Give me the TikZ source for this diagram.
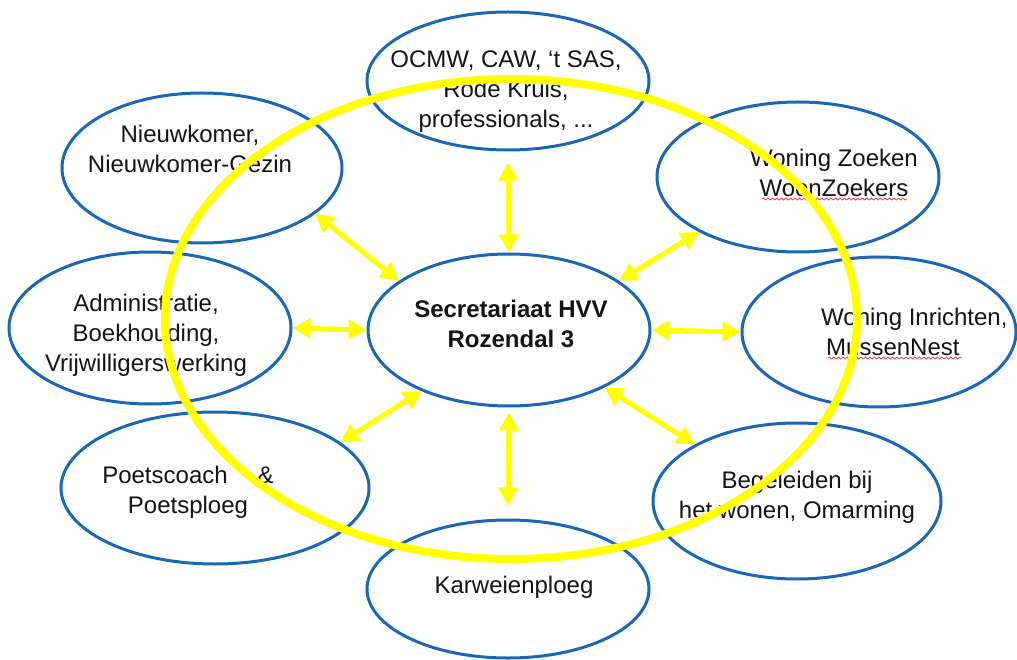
\documentclass[tikz,border=0pt]{standalone}
\usepackage{fontspec}
\setmainfont{Liberation Sans}
\usetikzlibrary{arrows.meta,shapes.geometric,decorations.pathmorphing}
\definecolor{ellblue}{RGB}{26,104,180}
\definecolor{ringyellow}{RGB}{255,255,0}
\definecolor{squig}{RGB}{225,70,70}
\definecolor{ink}{RGB}{20,20,20}
\begin{document}
\begin{tikzpicture}[x=1pt,y=-1pt,
  bubble/.style={ellipse, draw=ellblue, line width=3pt, inner sep=0pt},
  txt/.style={font=\fontsize{24}{30}\selectfont, align=center, text=ink, inner sep=0pt},
  link/.style={draw=ringyellow, line width=5pt, >={Triangle[length=18pt,width=19pt]}, <->},
  spell/.style={draw=squig, line width=0.8pt, decorate, decoration={snake, amplitude=1pt, segment length=4.5pt}},
  ringstyle/.style={ellipse, draw=ringyellow, line width=8pt, inner sep=0pt}
]
\useasboundingbox (0,0) rectangle (1017,660);
\fill[white] (0,0) rectangle (1017,660);

% ellipses
\node[bubble, minimum width=282pt, minimum height=138pt] (top) at (508,81) {};
\node[bubble, minimum width=280pt, minimum height=150pt] (nk) at (202,168) {};
\node[bubble, minimum width=282pt, minimum height=150pt] (wz) at (798,177) {};
\node[bubble, minimum width=282pt, minimum height=152pt] (adm) at (150,328) {};
\node[bubble, minimum width=282pt, minimum height=152pt] (sec) at (509,330) {};
\node[bubble, minimum width=274pt, minimum height=150pt] (inr) at (879,332) {};
\node[bubble, minimum width=308pt, minimum height=152pt] (poets) at (215,488) {};
\node[bubble, minimum width=288pt, minimum height=156pt] (beg) at (797,501) {};
\node[bubble, minimum width=282pt, minimum height=138pt] (karw) at (508,589) {};

% texts
\node[txt] (toptxt) at (506,92) {OCMW, CAW, ‘t SAS,\\Rode Kruis,\\professionals, ...};
\node[txt] (nktxt) at (190,149) {Nieuwkomer,\\Nieuwkomer-Gezin};
\node[txt] (wztxt) at (834,173) {Woning Zoeken\\WoonZoekers};
\node[txt] (admtxt) at (146,335) {Administratie,\\Boekhouding,\\Vrijwilligerswerking};
\node[txt, font=\fontsize{24}{30}\selectfont\bfseries] (sectxt) at (511,324) {Secretariaat HVV\\Rozendal 3};
\node[txt, align=left, anchor=west] (inrtxt) at (821,332) {Woning Inrichten,\\\hspace*{5pt}MussenNest};
\node[txt] (begtxt) at (797,497) {Begeleiden bij\\het wonen, Omarming};
\node[txt] (poetstxt) at (188,492) {Poetscoach\hspace{30pt}\&\\Poetsploeg};
\node[txt] (karwtxt) at (514,587) {Karweienploeg};

% spell-check marks
\draw[spell] (762,199) -- (907,199);
\draw[spell] (828,358) -- (962,358);

% connectors
\draw[link, shorten <=11pt] (top.south) -- (sec.north);
\draw[link] (nk.-22) -- (sec.156);
\draw[link] (sec.24) -- (wz.209);
\draw[link] (adm.east) -- (sec.west);
\draw[link] (sec.east) -- (inr.west);
\draw[link] (sec.215.5) -- (poets.20.6);
\draw[link] (sec.-31) -- (beg.151.7);
\draw[link, shorten <=5pt, shorten >=13pt] (sec.south) -- (karw.north);

% yellow ring
\node[ringstyle, minimum width=692pt, minimum height=480pt] (ring) at (511,319) {};
\end{tikzpicture}
\end{document}
